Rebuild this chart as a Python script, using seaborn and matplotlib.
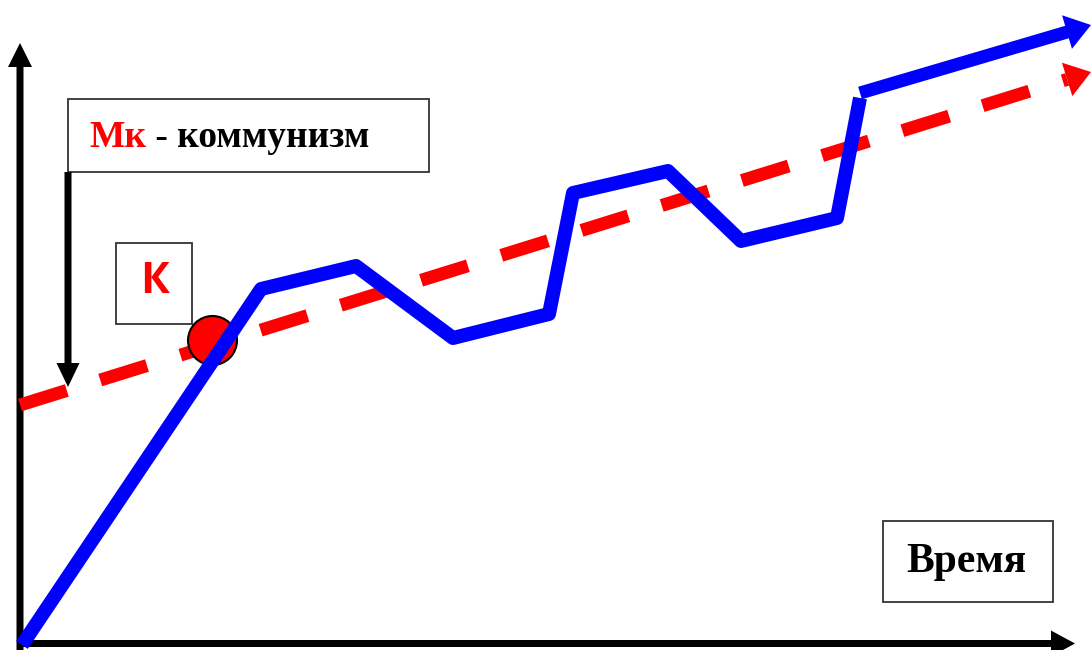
import numpy as np
import pandas as pd
import seaborn as sns
import matplotlib.pyplot as plt
from matplotlib.patches import Rectangle

# real development path (blue), pixel-like units, y grows upward
path_x = [22, 261, 356, 453, 549, 573, 668, 741, 837, 860]
path_y = [5, 361, 384, 312, 336, 457, 479, 409, 432, 552]
# last blue piece with arrow head
top_x = [860, 1091]
top_y = [557, 625]

# ideal trend to communism (red dashed)
trend_x = [20, 1091]
trend_y = [245, 578]

# point "К"
k_x = [212]
k_y = [310]

sns.set_style("white")

fig = plt.figure(figsize=(10.91, 6.5), dpi=100)
ax = fig.add_axes([0, 0, 1, 1])
ax.set_xlim(0, 1091)
ax.set_ylim(0, 650)
ax.axis("off")

PX = 72 / 100  # one pixel in points

# axes arrows
ax.arrow(20, 0, 0, 607, width=7, head_width=24, head_length=24,
         length_includes_head=True, color="black", lw=0, zorder=2)
ax.arrow(17, 6.5, 1058, 0, width=7, head_width=26, head_length=24,
         length_includes_head=True, color="black", lw=0, zorder=2)

# boxes
ax.add_patch(Rectangle((68, 478), 361, 73, fill=True, facecolor="white",
                       edgecolor="#333333", lw=1.3, zorder=1))
ax.add_patch(Rectangle((116, 326), 76, 81, fill=True, facecolor="white",
                       edgecolor="#333333", lw=1.3, zorder=1))
ax.add_patch(Rectangle((883, 48), 170, 81, fill=True, facecolor="white",
                       edgecolor="#333333", lw=1.3, zorder=1))

# down arrow from the communism box
ax.arrow(68, 478, 0, -215, width=7, head_width=23, head_length=24,
         length_includes_head=True, color="black", lw=0, zorder=2)

# red dashed trend with arrow head
red_w = 13
tx = np.array(trend_x, dtype=float)
ty = np.array(trend_y, dtype=float)
d = np.hypot(tx[1] - tx[0], ty[1] - ty[0])
ux, uy = (tx[1] - tx[0]) / d, (ty[1] - ty[0]) / d
hl = 25
base_x, base_y = tx[1] - ux * hl, ty[1] - uy * hl
sns.lineplot(x=[tx[0], base_x], y=[ty[0], base_y], sort=False, ax=ax,
             color="red", linewidth=red_w * PX,
             linestyle=(0, (49 / red_w, 35 / red_w)), zorder=3)
ax.arrow(base_x, base_y, ux * hl, uy * hl, width=red_w, head_width=35,
         head_length=hl, length_includes_head=True, color="red", lw=0, zorder=3)

# point K
sns.scatterplot(x=k_x, y=k_y, ax=ax, s=(49 * PX) ** 2, color="red",
                edgecolor="black", linewidth=1.5, zorder=4, legend=False)

# blue path
sns.lineplot(x=path_x, y=path_y, sort=False, ax=ax, color="blue",
             linewidth=14 * PX, zorder=5, solid_capstyle="butt",
             solid_joinstyle="round")
ax.arrow(top_x[0], top_y[0], top_x[1] - top_x[0], top_y[1] - top_y[0],
         width=13, head_width=35, head_length=25, length_includes_head=True,
         color="blue", lw=0, zorder=5)

# labels
t1 = ax.text(89, 503, "Мк", color="red", fontsize=27, fontweight="bold",
             family="Liberation Serif", va="baseline", ha="left", zorder=6)
ax.annotate(" - коммунизм", xy=(1, 0), xycoords=t1, va="bottom", ha="left",
            color="black", fontsize=27, fontweight="bold",
            family="Liberation Serif", zorder=6)
ax.text(155, 357, "К", color="red", fontsize=31, fontweight="bold",
        family="Open Sans", va="baseline", ha="center", zorder=6)
ax.text(966, 78, "Время", color="black", fontsize=30, fontweight="bold",
        family="Liberation Serif", va="baseline", ha="center", zorder=6)

fig.savefig("out.png", dpi=100)
